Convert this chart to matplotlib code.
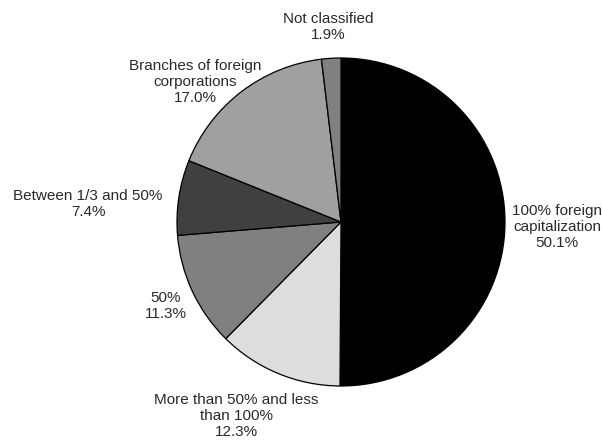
import matplotlib
import matplotlib.pyplot as plt

matplotlib.use("Agg")

plt.rcParams["font.family"] = ["Liberation Sans", "DejaVu Sans"]

# share of foreign-affiliated companies by capital ratio
categories = [
    "100% foreign\ncapitalization",
    "More than 50% and less\nthan 100%",
    "50%",
    "Between 1/3 and 50%",
    "Branches of foreign\ncorporations",
    "Not classified",
]
shares = [50.1, 12.3, 11.3, 7.4, 17.0, 1.9]
colors = ["#000000", "#dddddd", "#808080", "#404040", "#a0a0a0", "#808080"]

# label centres in pixel coordinates (x from left, y from top)
label_pos = [(557, 227), (236, 416), (166, 306), (88, 204), (195, 82), (328, 27)]

W, H = 602, 441
fig = plt.figure(figsize=(W / 100, H / 100), dpi=100)
ax = fig.add_axes([0, 0, 1, 1])

cx, cy, r = 341, 222, 164
ax.pie(
    shares,
    colors=colors,
    startangle=90,
    counterclock=False,
    radius=r,
    center=(cx, H - cy),
    frame=True,
    wedgeprops={"edgecolor": "black", "linewidth": 0.9},
)

for name, val, (x, y) in zip(categories, shares, label_pos):
    ax.text(
        x,
        H - y,
        f"{name}\n{val:.1f}%",
        ha="center",
        va="center",
        fontsize=11,
        color="#2a2a2a",
        linespacing=1.15,
    )

ax.set_xlim(0, W)
ax.set_ylim(0, H)
ax.set_aspect("auto")
ax.axis("off")

fig.savefig("out.png", dpi=100, facecolor="white")
